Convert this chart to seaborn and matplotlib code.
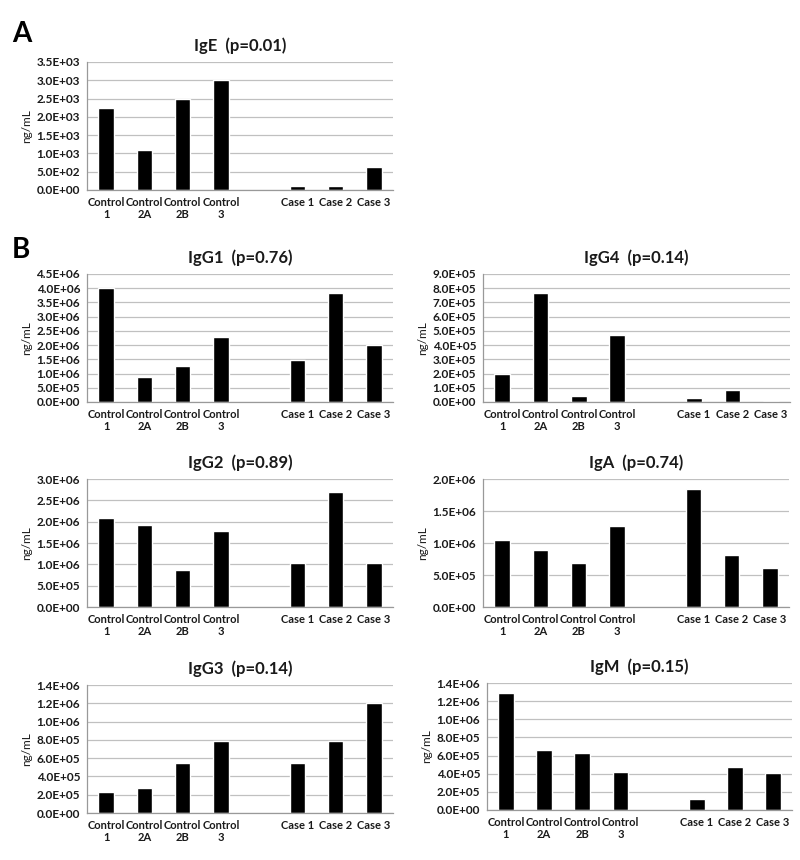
import numpy as np
import pandas as pd
import seaborn as sns
import matplotlib.pyplot as plt
from matplotlib.ticker import FuncFormatter

sns.set_style("white")
plt.rcParams['font.family'] = ['Lato', 'DejaVu Sans']

# categories (blank slot between controls and cases)
categories = ["Control\n1", "Control\n2A", "Control\n2B", "Control\n3", "Case 1", "Case 2", "Case 3"]
slot_order = categories[:4] + [" "] + categories[4:]

# values (ng/mL)
ige = [2250, 1090, 2480, 3000, 100, 110, 640]
igg1 = [4.0e6, 0.88e6, 1.25e6, 2.28e6, 1.48e6, 3.83e6, 1.99e6]
igg4 = [1.96e5, 7.66e5, 0.44e5, 4.70e5, 0.30e5, 0.82e5, 0.07e5]
igg2 = [2.08e6, 1.92e6, 0.86e6, 1.78e6, 1.03e6, 2.69e6, 1.03e6]
iga = [1.04e6, 0.89e6, 0.68e6, 1.26e6, 1.84e6, 0.82e6, 0.61e6]
igg3 = [0.226e6, 0.273e6, 0.55e6, 0.787e6, 0.55e6, 0.787e6, 1.207e6]
igm = [1.29e6, 0.665e6, 0.63e6, 0.417e6, 0.121e6, 0.479e6, 0.413e6]

panel_titles = ["IgE  (p=0.01)", "IgG1  (p=0.76)", "IgG4  (p=0.14)", "IgG2  (p=0.89)",
                "IgA  (p=0.74)", "IgG3  (p=0.14)", "IgM  (p=0.15)"]
panel_values = [ige, igg1, igg4, igg2, iga, igg3, igm]
y_max = [3.5e3, 4.5e6, 9.0e5, 3.0e6, 2.0e6, 1.4e6, 1.4e6]
y_step = [5e2, 5e5, 1e5, 5e5, 5e5, 2e5, 2e5]

# axes boxes in pixels: left, top, right, bottom
W, H = 800, 860
boxes = [(87, 62, 393, 190),
         (87, 274, 393, 402), (483, 274, 790, 402),
         (87, 479, 393, 607), (483, 479, 789, 607),
         (87, 685, 393, 813), (487, 683, 792, 810)]

fig = plt.figure(figsize=(W / 100, H / 100), dpi=100)

grid_col = '#c0c0c0'
text_col = '#1a1a1a'

for title, vals, ymax, step, (l, t, r, b) in zip(panel_titles, panel_values, y_max, y_step, boxes):
    ax = fig.add_axes([l / W, 1 - b / H, (r - l) / W, (b - t) / H])
    df = pd.DataFrame({'sample': categories, 'value': vals})
    sns.barplot(data=df, x='sample', y='value', order=slot_order, color='black',
                saturation=1, width=0.41, errorbar=None, ax=ax)
    ax.set_xlim(-0.5, 7.5)
    ax.set_ylim(0, ymax)
    ax.set_yticks(np.arange(0, ymax + step / 2, step))
    ax.yaxis.set_major_formatter(FuncFormatter(lambda v, p: f"{v:.1E}"))
    ax.yaxis.grid(True, color=grid_col, linewidth=0.9)
    ax.set_axisbelow(True)
    for s in ['top', 'right']:
        ax.spines[s].set_visible(False)
    for s in ['left', 'bottom']:
        ax.spines[s].set_color('#999999')
        ax.spines[s].set_linewidth(0.9)
    ax.set_xticks(np.arange(-0.5, 8), minor=True)
    ax.tick_params(axis='x', which='major', length=0, pad=5, labelsize=8, labelcolor=text_col)
    ax.tick_params(axis='x', which='minor', length=4, color='#999999', direction='out')
    ax.tick_params(axis='y', length=3, color='#999999', direction='out', pad=2,
                   labelsize=8.5, labelcolor=text_col)
    for lab in ax.get_xticklabels():
        lab.set_fontweight('bold')
        lab.set_linespacing(1.15)
    for lab in ax.get_yticklabels():
        lab.set_fontweight('bold')
    ax.set_xlabel('')
    ax.set_ylabel('ng/mL', fontsize=8.5, color=text_col, labelpad=3)
    ax.set_title(title, fontsize=12, fontweight='bold', color=text_col, pad=8)

fig.text(12 / W, 1 - 42 / H, 'A', fontsize=20, fontweight='bold', color='black')
fig.text(12 / W, 1 - 258 / H, 'B', fontsize=20, fontweight='bold', color='black')

plt.savefig('out.png', dpi=100)
